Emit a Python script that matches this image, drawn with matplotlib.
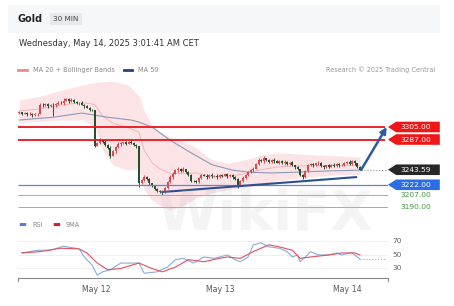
import matplotlib
matplotlib.use("Agg")
import matplotlib.pyplot as plt
from matplotlib.lines import Line2D
from matplotlib.patches import Rectangle, Polygon
from matplotlib.transforms import blended_transform_factory

# --- price data (30 min candles) ---
closes = [3326, 3324, 3325, 3323, 3324, 3322, 3323, 3324,
          3337, 3336, 3338, 3335, 3337, 3336, 3338, 3340, 3339,
          3343, 3345, 3342, 3344, 3341, 3339, 3340, 3337,
          3335, 3333, 3330, 3329, 3278,
          3282, 3286, 3284, 3279, 3275, 3264, 3270, 3276, 3280, 3282,
          3283, 3281, 3284, 3282, 3279, 3277, 3224,
          3229, 3233, 3230, 3224, 3220, 3216, 3213, 3212, 3211,
          3218, 3226, 3233, 3238, 3243, 3245, 3242, 3244, 3240, 3236,
          3228, 3227, 3226,
          3232, 3236, 3235, 3233, 3236, 3234, 3235, 3233, 3236, 3235, 3237, 3234, 3236, 3233, 3230,
          3222, 3228, 3232, 3236, 3240, 3243, 3245, 3252,
          3258, 3256, 3260, 3257, 3255, 3258, 3256, 3254, 3256, 3253, 3255, 3252, 3254,
          3250, 3247, 3244, 3236, 3233,
          3242, 3250, 3252, 3250, 3253,
          3254, 3249, 3247, 3250, 3248, 3251, 3249, 3252, 3250, 3251,
          3253, 3255, 3252, 3256, 3253, 3248, 3243.59]
first_open = 3325
wick_up = [2, 1, 2, 1, 3, 1, 2, 1, 3, 2, 1, 2, 1, 2, 1, 2,
           2, 3, 1, 2, 2, 1, 2, 1, 2, 1, 2, 1, 1, 1, 2, 3,
           1, 2, 1, 2, 2, 1, 3, 2, 1, 2, 1, 2, 1, 1, 1, 2,
           3, 1, 2, 1, 1, 2, 1, 2, 1, 2, 3, 2, 1, 2, 1, 3,
           1, 2, 2, 1, 2, 1, 2, 1, 2, 1, 3, 1, 2, 1, 2, 1,
           2, 1, 2, 1, 2, 1, 2, 1, 2, 1, 3, 2, 2, 1, 3, 1,
           2, 1, 2, 1, 2, 1, 2, 1, 1, 2, 1, 2, 1, 2, 1, 2,
           1, 2, 1, 2, 1, 2, 1, 2, 1, 3, 1, 2, 1, 2, 1, 2,
           1, 2, 1, 1]
wick_dn = [1, 2, 1, 2, 1, 2, 1, 2, 1, 2, 1, 2, 1, 15, 2, 1,
           1, 2, 1, 2, 1, 2, 1, 2, 1, 2, 1, 2, 1, 2, 1, 2,
           2, 1, 2, 3, 1, 2, 1, 2, 1, 2, 1, 2, 1, 2, 5, 1,
           2, 1, 2, 1, 2, 1, 2, 3, 1, 2, 1, 2, 1, 2, 1, 2,
           1, 2, 2, 1, 2, 1, 2, 1, 2, 1, 2, 1, 2, 1, 2, 1,
           2, 1, 2, 1, 4, 1, 2, 1, 2, 1, 2, 1, 2, 1, 2, 1,
           2, 1, 2, 1, 2, 1, 2, 1, 2, 1, 2, 1, 2, 3, 1, 2,
           1, 2, 1, 2, 1, 2, 1, 2, 1, 2, 1, 2, 1, 2, 1, 2,
           1, 2, 2, 1]

# Bollinger bands (MA 20) and MA 50
band_idx = [0, 8, 16, 24, 29, 32, 36, 42, 46, 48, 51, 54, 58, 62, 68, 74, 80, 87, 93, 100, 108, 120, 131]
band_upper = [3344, 3349, 3358, 3365, 3369, 3370, 3371, 3365, 3350, 3329, 3308, 3298, 3291, 3286,
              3275, 3258, 3253, 3258, 3265, 3268, 3266, 3264, 3262]
band_lower = [3312, 3313, 3315, 3315, 3306, 3272, 3250, 3243, 3245, 3215, 3200, 3192, 3186, 3190,
              3203, 3210, 3215, 3218, 3222, 3228, 3232, 3236, 3237]
ma50_idx = [0, 13, 24, 34, 43, 46, 51, 58, 66, 74, 82, 89, 97, 106, 120, 131]
ma50 = [3315, 3319, 3325, 3319, 3315, 3312, 3305, 3286, 3268, 3251, 3243, 3240, 3239, 3240, 3242, 3243]

# RSI panel
rsi_idx = [1, 7, 12, 17, 23, 25, 28, 30, 32, 35, 39, 46, 48, 53, 57, 60, 63, 67, 71, 75, 80, 83, 85,
           88, 90, 93, 96, 100, 103, 105, 107, 108, 110, 112, 115, 119, 122, 124, 127, 128, 130, 131]
rsi = [53, 57, 57, 63, 59, 47, 35, 20, 25, 28, 38, 38, 23, 25, 32, 43, 45, 38, 47, 45, 50, 43, 40,
       47, 65, 68, 62, 60, 55, 47, 50, 40, 47, 55, 50, 50, 53, 50, 53, 53, 47, 44]
ma9_idx = [1, 8, 16, 23, 26, 30, 34, 39, 46, 51, 55, 60, 65, 71, 77, 80, 85, 90, 96, 100, 105, 108,
           112, 119, 124, 129, 131]
ma9 = [53, 55, 60, 59, 53, 38, 28, 30, 38, 30, 25, 32, 43, 40, 45, 47, 45, 55, 65, 62, 57, 45,
       47, 50, 53, 53, 50]

# levels
resist = [3305, 3287]
support = 3222
minor = [3207, 3190]
last_price = 3243.59
trend_x = [55, 129.5]
trend_y = [3211.6, 3233]
day_ticks = [29.6, 77.3, 126]
day_labels = ['May 12', 'May 13', 'May 14']

W, H = 454, 306
fig = plt.figure(figsize=(W / 100, H / 100), dpi=100)
fig.patch.set_facecolor('white')

# header band
fig.add_artist(Rectangle((8 / W, 1 - 33 / H), 432 / W, 28 / H, transform=fig.transFigure,
                         fc='#f6f7f8', ec='none', zorder=0))
fig.text(18 / W, 1 - 19 / H, 'Gold', fontsize=7, weight='bold', color='#222', va='center')
fig.text(53 / W, 1 - 19 / H, '30 MIN', fontsize=5.2, color='#444', va='center',
         bbox=dict(boxstyle='square,pad=0.45', fc='#e9e9eb', ec='none'))
fig.text(19 / W, 1 - 43 / H, 'Wednesday, May 14, 2025 3:01:41 AM CET', fontsize=6,
         color='#333', va='center')
fig.add_artist(Line2D([18 / W, 27 / W], [1 - 70 / H] * 2, color='#f08a8a', lw=2,
                      transform=fig.transFigure))
fig.text(33 / W, 1 - 70 / H, 'MA 20 + Bollinger Bands', fontsize=4.7, color='#888', va='center')
fig.add_artist(Line2D([124 / W, 132 / W], [1 - 70 / H] * 2, color='#2b3f7e', lw=2,
                      transform=fig.transFigure))
fig.text(138 / W, 1 - 70 / H, 'MA 50', fontsize=4.7, color='#888', va='center')
fig.text(435 / W, 1 - 70 / H, 'Research \u00a9 2025 Trading Central', fontsize=4.7,
         color='#999', va='center', ha='right')

# --- main price axes ---
ax = fig.add_axes([18 / W, 1 - 212 / H, 370 / W, 132 / H])
ax.set_xlim(-0.5, 141.8)
ax.set_ylim(3182.9, 3372.5)
ax.axis('off')

ax.fill_between(band_idx, band_lower, band_upper, color='#fcdde0', alpha=0.8, lw=0, zorder=1)
mid = [(u + l) / 2 for u, l in zip(band_upper, band_lower)]
ax.plot(band_idx, mid, color='#efb0b6', lw=0.6, zorder=2)
ax.plot(ma50_idx, ma50, color='#8c9bbb', lw=0.8, zorder=2)

opens = [first_open] + closes[:-1]
for i, (o, c) in enumerate(zip(opens, closes)):
    col = '#e0474c' if c >= o else '#24502e'
    ax.vlines(i, min(o, c) - wick_dn[i], max(o, c) + wick_up[i], color=col, lw=0.7, zorder=3)
    ax.bar(i, max(abs(c - o), 0.8), bottom=min(o, c), width=0.65, color=col, lw=0, zorder=3)

ax.hlines(resist, -0.5, 140.8, color='#e8141b', lw=1.3, zorder=4)
ax.hlines(support, -0.5, 141.8, color='#5b86d6', lw=0.9, zorder=4)
ax.hlines(minor, -0.5, 141.8, color='#a8a8a8', lw=0.7, zorder=4)
ax.hlines(last_price, 131.5, 141.8, color='#999', lw=0.8, linestyles=':', zorder=4)

ax.plot(trend_x, trend_y, color='#2d4f91', lw=1.5, zorder=5)
ax.annotate('', xy=(141.3, resist[0]), xytext=(131.5, last_price),
            arrowprops=dict(arrowstyle='-|>', color='#2d5aa3', lw=1.8, mutation_scale=9,
                            shrinkA=0, shrinkB=0), zorder=6)

tr = blended_transform_factory(ax.transAxes, ax.transData)
hh = 7.6
boxes = [(resist[0], '#ee1717', '3305.00'), (resist[1], '#ee1717', '3287.00'),
         (last_price, '#272727', '3243.59'), (support, '#2a6de6', '3222.00')]
for y, fc, txt in boxes:
    ax.add_patch(Polygon([(1.0, y), (1.022, y + hh), (1.14, y + hh), (1.14, y - hh),
                          (1.022, y - hh)], closed=True, transform=tr, fc=fc, ec='none',
                         clip_on=False, zorder=7))
    ax.text(1.033, y, txt, transform=tr, fontsize=5.4, color='white', va='center',
            ha='left', zorder=8, clip_on=False)
for y in minor:
    ax.text(1.033, y, f'{y:.2f}', transform=tr, fontsize=5.4, color='#3f9a3f', va='center',
            ha='left', clip_on=False)

# --- RSI axes ---
rax = fig.add_axes([18 / W, 1 - 278 / H, 370 / W, 46 / H])
rax.set_xlim(-0.5, 141.8)
rax.set_ylim(15.9, 84)
for s in ['top', 'right', 'left']:
    rax.spines[s].set_visible(False)
rax.spines['bottom'].set_color('#888')
rax.spines['bottom'].set_linewidth(0.8)
rax.set_yticks([])
rax.set_xticks(day_ticks, day_labels)
rax.tick_params(axis='x', length=0, pad=5, labelsize=5.6, labelcolor='#555')
rax.patch.set_alpha(0)
for lv in [70, 50, 30]:
    rax.axhline(lv, color='#ececec', lw=0.6, zorder=0)
    rax.text(1.012, lv, str(lv), transform=blended_transform_factory(rax.transAxes, rax.transData),
             fontsize=5.4, color='#666', va='center', ha='left')
for xe in [0, 1]:
    rax.plot([xe, xe], [0, -0.07], transform=rax.transAxes, color='#888', lw=0.8, clip_on=False)
rax.plot(rsi_idx, rsi, color='#86aedb', lw=0.8)
rax.plot(ma9_idx, ma9, color='#e2505f', lw=0.8)
rax.hlines(rsi[-1], rsi_idx[-1], 141, color='#aaa', lw=0.8, linestyles=':')
fig.text(18 / W, 1 - 225 / H, '\u25ac', fontsize=6, color='#4f7fd0', va='center')
fig.text(32 / W, 1 - 225 / H, 'RSI', fontsize=4.7, color='#888', va='center')
fig.text(52 / W, 1 - 225 / H, '\u25ac', fontsize=6, color='#e01b24', va='center')
fig.text(66 / W, 1 - 225 / H, '9MA', fontsize=4.7, color='#888', va='center')

# watermark
fig.text(265 / W, 1 - 215 / H, 'WikiFX', fontsize=40, weight='bold', color='#b8b8b8',
         alpha=0.15, ha='center', va='center', zorder=10)

fig.savefig('out.png', dpi=100)
